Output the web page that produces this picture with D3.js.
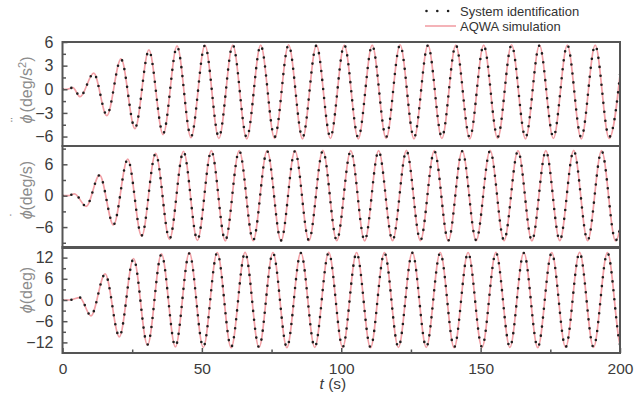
<!DOCTYPE html>
<html><head><meta charset="utf-8">
<script src="https://cdn.jsdelivr.net/npm/d3@7"></script>
<style>body{margin:0;background:#fff}svg{display:block}</style>
</head><body>
<script>
// ---- data ----
const tTicks = [0, 50, 100, 150, 200];
const tMinor = [25, 75, 125, 175];

const accTimes = [0,1.5,3.7,6.3,11.2,15.9,21.0,26.0,31.0,36.1,41.1,46.1,51.1,56.1,61.1,66.1,71.1,76.1,81.1,86.1,91.1,96.1,101.1,106.1,111.1,116.1,121.1,126.1,131.1,136.1,141.1,146.1,151.1,156.1,161.1,166.1,171.1,176.1,181.1,186.1,191.1,196.1,201.1];
const accSI = [0,0,0.2,-0.9,2.0,-3.25,3.8,-4.9,4.9,-5.6,5.4,-6.0,5.55,
 -6.05,5.6,-6.1,5.55,-6.05,5.6,-6.1,5.55,-6.05,5.6,
 -6.1,5.55,-6.05,5.6,-6.1,5.55,-6.05,5.6,-6.1,5.55,
 -6.05,5.6,-6.1,5.55,-6.05,5.6,-6.1,5.55,-6.05,5.6];
const accAQWA = [0,0,0.2,-0.95,2.05,-3.35,3.85,-5.0,5.0,-5.75,5.5,-6.15,5.6,
 -6.25,5.6,-6.3,5.6,-6.25,5.65,-6.3,5.6,-6.25,5.6,
 -6.3,5.6,-6.25,5.65,-6.3,5.6,-6.25,5.6,-6.3,5.6,
 -6.25,5.65,-6.3,5.6,-6.25,5.6,-6.3,5.6,-6.25,5.6];
const accTicks = [-6, -3, 0, 3, 6];
const accMinor = [-4.5, -1.5, 1.5, 4.5];

const velTimes = [0,2.0,4.3,8.5,13.3,18.3,23.4,28.4,33.4,38.4,43.4,48.4,53.4,58.4,63.4,68.4,73.4,78.4,83.4,88.4,93.4,98.4,103.4,108.4,113.4,118.4,123.4,128.4,133.4,138.4,143.4,148.4,153.4,158.4,163.4,168.4,173.4,178.4,183.4,188.4,193.4,198.4,203.4];
const velSI = [0,0,0.35,-2.0,3.9,-5.5,6.9,-7.6,8.0,-8.2,8.4,-8.4,8.5,
 -8.5,8.55,-8.5,8.5,-8.55,8.5,-8.5,8.55,-8.5,8.5,
 -8.55,8.5,-8.5,8.55,-8.5,8.5,-8.55,8.5,-8.5,8.55,
 -8.5,8.5,-8.55,8.5,-8.5,8.55,-8.5,8.5,-8.55,8.5];
const velAQWA = [0,0,0.35,-2.05,3.95,-5.6,7.0,-7.75,8.1,-8.35,8.5,-8.55,8.6,
 -8.65,8.6,-8.6,8.6,-8.65,8.6,-8.6,8.65,-8.6,8.6,
 -8.65,8.6,-8.6,8.65,-8.6,8.6,-8.65,8.6,-8.6,8.65,
 -8.6,8.6,-8.65,8.6,-8.6,8.65,-8.6,8.6,-8.65,8.6];
const velTicks = [-6, 0, 6];
const velMinor = [-9, -3, 3, 9];

const dispTimes = [0,2.5,6.2,10.2,15.3,20.4,25.5,30.5,35.5,40.5,45.5,50.5,55.5,60.5,65.5,70.5,75.5,80.5,85.5,90.5,95.5,100.5,105.5,110.5,115.5,120.5,125.5,130.5,135.5,140.5,145.5,150.5,155.5,160.5,165.5,170.5,175.5,180.5,185.5,190.5,195.5,200.5,205.5];
const dispSI = [0,0,0.7,-4.4,7.3,-10.3,11.6,-12.6,12.9,-13.1,13.2,-13.3,13.3,
 -13.3,13.35,-13.3,13.3,-13.35,13.3,-13.3,13.35,-13.3,13.3,
 -13.35,13.3,-13.3,13.35,-13.3,13.3,-13.35,13.3,-13.3,13.35,
 -13.3,13.3,-13.35,13.3,-13.3,13.35,-13.3,13.3,-13.35,13.3];
const dispAQWA = [0,0,0.7,-4.5,7.4,-10.45,11.75,-12.8,13.05,-13.3,13.4,-13.45,13.45,
 -13.5,13.5,-13.45,13.45,-13.5,13.45,-13.45,13.5,-13.45,13.45,
 -13.5,13.45,-13.45,13.5,-13.45,13.45,-13.5,13.45,-13.45,13.5,
 -13.45,13.45,-13.5,13.45,-13.45,13.5,-13.45,13.45,-13.5,13.45];
const dispTicks = [-12, -6, 0, 6, 12];
const dispMinor = [-9, -3, 3, 9];

const legendLabels = ["System identification", "AQWA simulation"];

// ---- drawing ----
const W = 644, H = 401;
const FONT = '"Liberation Sans", Arial, Helvetica, sans-serif';
const PINK = '#f2a0a6', DOT = '#1e1e1e', FRAME = '#555';
const svg = d3.select('body').append('svg').attr('width', W).attr('height', H)
  .style('font-family', FONT);

const x = d3.scaleLinear().domain([0, 200]).range([62.5, 620]);

const panels = [
  {times: accTimes, si: accSI, aq: accAQWA, domain: [-7.2, 6], top: 42, bottom: 146,
   ticks: accTicks, minor: accMinor, title: 'acc', titleY: 90},
  {times: velTimes, si: velSI, aq: velAQWA, domain: [-10, 9.5], top: 146, bottom: 248,
   ticks: velTicks, minor: velMinor, title: 'vel', titleY: 190},
  {times: dispTimes, si: dispSI, aq: dispAQWA, domain: [-15, 15], top: 247, bottom: 353,
   ticks: dispTicks, minor: dispMinor, title: 'disp', titleY: 290}
];

panels.forEach((p, i) => {
  const y = d3.scaleLinear().domain(p.domain).range([p.bottom, p.top]);
  const clipId = 'clip' + i;
  svg.append('clipPath').attr('id', clipId).append('rect')
    .attr('x', x(0)).attr('y', p.top).attr('width', x(200) - x(0)).attr('height', p.bottom - p.top);

  const line = d3.line().curve(d3.curveMonotoneX).x(d => x(d[0])).y(d => y(d[1]));
  const g = svg.append('g').attr('clip-path', `url(#${clipId})`);
  g.append('path').datum(d3.zip(p.times, p.aq)).attr('d', line)
    .attr('fill', 'none').attr('stroke', PINK).attr('stroke-width', 1.7);
  g.append('path').datum(d3.zip(p.times, p.si)).attr('d', line)
    .attr('fill', 'none').attr('stroke', DOT).attr('stroke-width', 2.6)
    .attr('stroke-linecap', 'round').attr('stroke-dasharray', '0 9');

  // y axis major
  const ya = svg.append('g').attr('transform', `translate(${x(0)},0)`)
    .call(d3.axisLeft(y).tickValues(p.ticks).tickSizeInner(-5).tickSizeOuter(0).tickPadding(9));
  ya.select('.domain').remove();
  ya.selectAll('line').attr('stroke', FRAME).attr('stroke-width', 1.5);
  ya.selectAll('text').attr('fill', '#3c3c3c').style('font-size', '16px').style('font-family', FONT);
  // y axis minor
  const ym = svg.append('g').attr('transform', `translate(${x(0)},0)`)
    .call(d3.axisLeft(y).tickValues(p.minor).tickSizeInner(-3.5).tickSizeOuter(0).tickFormat(''));
  ym.select('.domain').remove();
  ym.selectAll('line').attr('stroke', FRAME).attr('stroke-width', 1.5);

  // frame
  svg.append('rect').attr('x', x(0)).attr('y', p.top).attr('width', x(200) - x(0))
    .attr('height', p.bottom - p.top).attr('fill', 'none').attr('stroke', FRAME).attr('stroke-width', 2);

  // title (rotated); dots over phi drawn as spacing accent glyphs
  const t = svg.append('text').attr('transform', `translate(32,${p.titleY}) rotate(-90)`)
    .attr('text-anchor', 'middle').attr('fill', '#8c8c8c').style('font-size', '16px');
  t.append('tspan').style('font-style', 'italic').text('\u03D5');
  if (p.title === 'acc') {
    t.append('tspan').attr('dx', -7.5).attr('dy', -11).style('font-size', '14px').text('\u00A8');
    t.append('tspan').attr('dx', 0.5).attr('dy', 11).text(' (deg/s');
    t.append('tspan').attr('dy', -6).style('font-size', '11px').text('2');
    t.append('tspan').attr('dy', 6).text(')');
  } else if (p.title === 'vel') {
    t.append('tspan').attr('dx', -6.5).attr('dy', -11).style('font-size', '14px').text('\u02D9');
    t.append('tspan').attr('dx', 1.5).attr('dy', 11).text('(deg/s)');
  } else {
    t.append('tspan').text('(deg)');
  }
});

// x axis on bottom panel
const bottomY = panels[2].bottom;
const xa = svg.append('g').attr('transform', `translate(0,${bottomY})`)
  .call(d3.axisBottom(x).tickValues(tTicks).tickSizeInner(-5).tickSizeOuter(0).tickPadding(9.5));
xa.select('.domain').remove();
xa.selectAll('line').attr('stroke', FRAME).attr('stroke-width', 1.5);
xa.selectAll('text').attr('fill', '#3c3c3c').style('font-size', '15.5px').style('font-family', FONT);
const xm = svg.append('g').attr('transform', `translate(0,${bottomY})`)
  .call(d3.axisBottom(x).tickValues(tMinor).tickSizeInner(-3.5).tickSizeOuter(0).tickFormat(''));
xm.select('.domain').remove();
xm.selectAll('line').attr('stroke', FRAME).attr('stroke-width', 1.5);

const xl = svg.append('text').attr('x', x(97)).attr('y', 389).attr('text-anchor', 'middle')
  .attr('fill', '#3c3c3c').style('font-size', '15.5px');
xl.append('tspan').style('font-style', 'italic').text('t');
xl.append('tspan').text(' (s)');

// legend
const lg = svg.append('g');
lg.append('line').attr('x1', 426.5).attr('x2', 449).attr('y1', 11).attr('y2', 11)
  .attr('stroke', DOT).attr('stroke-width', 2.6).attr('stroke-linecap', 'round').attr('stroke-dasharray', '0 10.8');
lg.append('text').attr('x', 460).attr('y', 15.5).attr('fill', '#333').style('font-size', '13px').text(legendLabels[0]);
lg.append('line').attr('x1', 425).attr('x2', 456).attr('y1', 26).attr('y2', 26)
  .attr('stroke', PINK).attr('stroke-width', 1.6);
lg.append('text').attr('x', 460).attr('y', 30.5).attr('fill', '#333').style('font-size', '13px').text(legendLabels[1]);
</script>
</body></html>
